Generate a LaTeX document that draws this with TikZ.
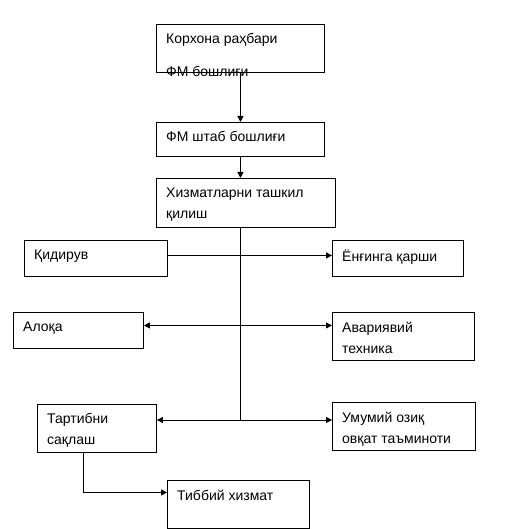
\documentclass[tikz,border=0pt]{standalone}
\usepackage{fontspec}
\setmainfont{Liberation Sans}
\usetikzlibrary{arrows.meta}

\begin{document}
\begin{tikzpicture}[
	x=1pt, y=-1pt,
	box/.style={
		rectangle,
		draw=black,
		line width=0.9pt,
		anchor=north west,
		inner sep=0pt
	},
	txt/.style={
		anchor=north west,
		align=left,
		inner sep=0pt,
		xshift=10pt,
		yshift=-9.5pt,
		font=\fontsize{14}{21}\selectfont
	},
	link/.style={
		line width=0.9pt,
		-{Triangle[length=6pt,width=6pt]}
	},
	both/.style={
		line width=0.9pt,
		{Triangle[length=6pt,width=6pt]}-{Triangle[length=6pt,width=6pt]}
	},
]

\useasboundingbox (0,0) rectangle (529,529);

\node[box, minimum width=168pt, minimum height=48pt] (rahbar) at (156,24) {};
\node[txt] at (rahbar.north west) {Корхона раҳбари \\[12pt] ФМ бошлиғи};

\node[box, minimum width=168pt, minimum height=34pt] (shtab) at (156,122) {};
\node[txt] at (shtab.north west) {ФМ штаб бошлиғи};

\node[box, minimum width=179pt, minimum height=49pt] (xizmat) at (156,178) {};
\node[txt] at (xizmat.north west) {Хизматларни ташкил \\ қилиш};

\node[box, minimum width=143pt, minimum height=36pt] (qidiruv) at (24,240) {};
\node[txt] at (qidiruv.north west) {Қидирув};

\node[box, minimum width=131pt, minimum height=36pt] (yongin) at (332,240) {};
\node[txt] at (yongin.north west) {Ёнғинга қарши};

\node[box, minimum width=130pt, minimum height=36pt] (aloqa) at (13,312) {};
\node[txt] at (aloqa.north west) {Алоқа};

\node[box, minimum width=142pt, minimum height=48pt] (avariya) at (332,312) {};
\node[txt] at (avariya.north west) {Авариявий \\ техника};

\node[box, minimum width=119pt, minimum height=48pt] (tartib) at (37,404) {};
\node[txt] at (tartib.north west) {Тартибни \\ сақлаш};

\node[box, minimum width=143pt, minimum height=48pt] (ozuqa) at (332,402) {};
\node[txt] at (ozuqa.north west) {Умумий озиқ \\ овқат таъминоти};

\node[box, minimum width=142pt, minimum height=48pt] (tibbiy) at (167,480) {};
\node[txt] at (tibbiy.north west) {Тиббий хизмат};

\coordinate (tugun) at (240,420);

\draw[link] (rahbar.south) -- (shtab.north);
\draw[link] (shtab.south) -- (shtab.south |- xizmat.north);
\draw[line width=0.9pt] (xizmat.south -| tugun) -- (tugun);
\draw[link] ([yshift=3pt]qidiruv.east) -- ([yshift=3pt]yongin.west);
\draw[both] ([yshift=5pt]aloqa.east) -- ([yshift=5pt]aloqa.east -| avariya.west);
\draw[both] (tugun -| tartib.east) -- (tugun -| ozuqa.west);
\draw[link] ([xshift=-13.5pt]tartib.south) |- ([yshift=12pt]tibbiy.west);

\end{tikzpicture}
\end{document}
